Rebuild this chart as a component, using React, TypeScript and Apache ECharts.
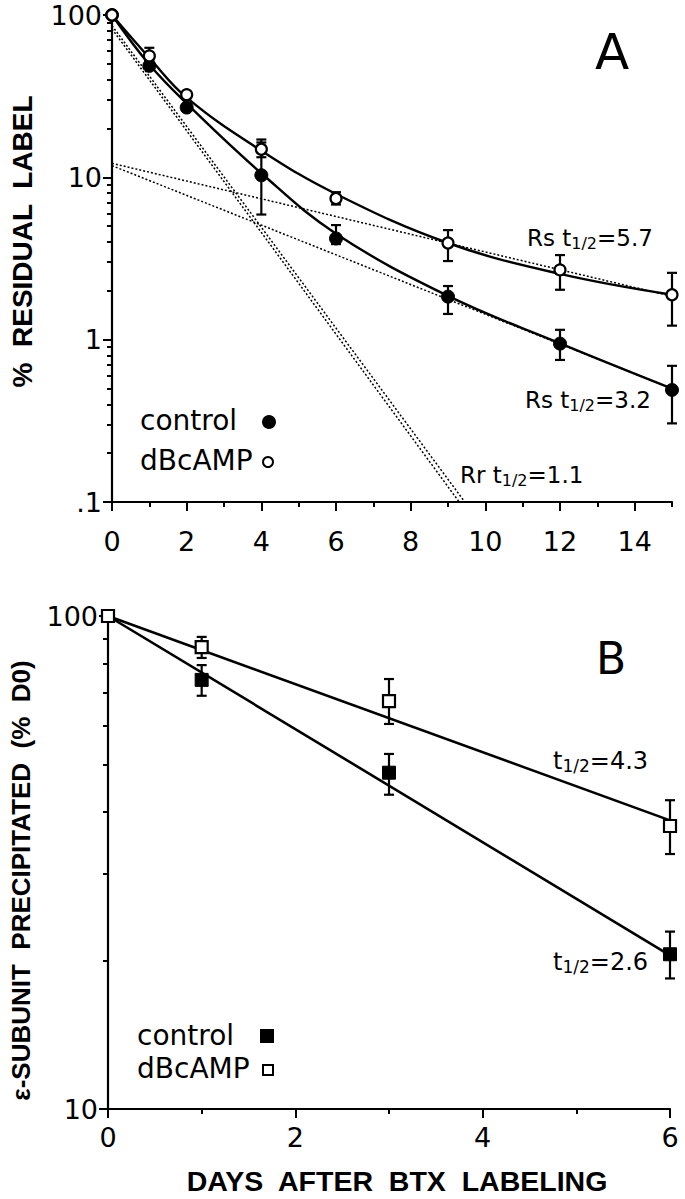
import React, { useEffect, useRef } from "react";
import * as echarts from "echarts";

// ---------- Panel A data (days, % residual label) ----------
const daysA = [0, 1, 2, 4, 6, 9, 12, 15];
const controlA = [100, 48.6, 26.9, 10.3, 4.2, 1.84, 0.945, 0.49];
const dbcA = [100, 56, 32.3, 14.9, 7.4, 3.94, 2.69, 1.89];
// error bars: [day, low, high]
const controlAErr = [
  [4, 5.9, 16.4],
  [6, 3.88, 5.08],
  [9, 1.44, 2.14],
  [12, 0.75, 1.15],
  [15, 0.305, 0.69],
];
const dbcAErr = [
  [1, 52, 62.8],
  [4, 13.3, 17.1],
  [6, 6.8, 8.1],
  [9, 3.05, 4.73],
  [12, 2.03, 3.32],
  [15, 1.22, 2.58],
];
// fitted curves
const fitControlA = [100, 49.5, 28.5, 10.6, 4.5, 1.86, 0.95, 0.5];
const fitDbcA = [100, 54.5, 31, 14.6, 7.9, 3.94, 2.54, 1.89];
// component lines (dotted)
const rsDaysA = [0, 15];
const rsControlA = [11.8, 0.5];
const rsDbcA = [12.2, 1.85];
const rrDays1 = [0, 9.45];
const rrLine1 = [86, 0.1];
const rrDays2 = [0, 9.3];
const rrLine2 = [82, 0.1];

// ---------- Panel B data (days, % D0) ----------
const daysB = [0, 1, 3, 6];
const controlB = [100, 74.2, 48.1, 20.6];
const dbcB = [100, 86.5, 67.2, 37.5];
const controlBErr = [
  [1, 68.9, 79.5],
  [3, 43.4, 52.5],
  [6, 18.4, 22.9],
];
const dbcBErr = [
  [1, 82.2, 90.7],
  [3, 60.4, 74.5],
  [6, 32.9, 42.3],
];
const fitDaysB = [0, 6];
const fitControlB = [100, 20.5];
const fitDbcB = [100, 38.5];

// ---------- ticks ----------
const xMajorA = [0, 2, 4, 6, 8, 10, 12, 14];
const xMajorB = [0, 2, 4, 6];
const yMinorA = [0.2, 0.3, 0.4, 0.5, 0.6, 0.7, 0.8, 0.9, 2, 3, 4, 5, 6, 7, 8, 9, 20, 30, 40, 50, 60, 70, 80, 90];
const yMinorB = [20, 30, 40, 50, 60, 70, 80, 90];

const FONT = "DejaVu Sans";
const BOLD = "Liberation Sans";

const zip = (xs: number[], ys: number[]) => xs.map((x, i) => [x, ys[i]]);

function errorSeries(xi: number, yi: number, data: number[][]) {
  return {
    type: "custom",
    xAxisIndex: xi,
    yAxisIndex: yi,
    data,
    z: 3,
    clip: false,
    encode: { x: 0, y: [1, 2] },
    renderItem: (params: any, api: any) => {
      const x = api.value(0);
      const p1 = api.coord([x, api.value(1)]);
      const p2 = api.coord([x, api.value(2)]);
      const w = 5;
      const st = { stroke: "#000", lineWidth: 2.2 };
      return {
        type: "group",
        children: [
          { type: "line", shape: { x1: p1[0], y1: p1[1], x2: p2[0], y2: p2[1] }, style: st },
          { type: "line", shape: { x1: p1[0] - w, y1: p1[1], x2: p1[0] + w, y2: p1[1] }, style: st },
          { type: "line", shape: { x1: p2[0] - w, y1: p2[1], x2: p2[0] + w, y2: p2[1] }, style: st },
        ],
      };
    },
  };
}

function lineSeries(xi: number, yi: number, data: number[][], dashed: boolean, smooth: boolean, width = 2) {
  return {
    type: "line",
    xAxisIndex: xi,
    yAxisIndex: yi,
    data,
    showSymbol: false,
    smooth: smooth ? 0.4 : false,
    z: 2,
    lineStyle: { color: "#000", width, type: dashed ? [2, 2] : "solid" },
  };
}

function pointSeries(xi: number, yi: number, data: number[][], symbol: string, filled: boolean, size: number) {
  return {
    type: "scatter",
    xAxisIndex: xi,
    yAxisIndex: yi,
    data,
    symbol,
    symbolSize: size,
    z: 5,
    clip: false,
    itemStyle: filled
      ? { color: "#000", borderColor: "#000", borderWidth: 1, opacity: 1 }
      : { color: "#fff", borderColor: "#000", borderWidth: 2.2, opacity: 1 },
  };
}

const axisLineStyle = { show: true, onZero: false, lineStyle: { color: "#000", width: 2.2 } };

function half(text: string, x: number, y: number, size: number) {
  return {
    type: "text",
    x,
    y,
    style: {
      text,
      textAlign: "left",
      textVerticalAlign: "middle",
      fill: "#000",
      rich: {
        a: { fontSize: size, fontFamily: FONT, fill: "#000" },
        s: { fontSize: Math.round(size * 0.7), fontFamily: FONT, fill: "#000", padding: [10, 0, 0, 0] },
      },
    },
  };
}

const tickFont = { fontSize: 27, fontFamily: FONT, color: "#000" };
const legendText = (text: string, x: number, y: number) => ({
  type: "text", x, y,
  style: { text, fontSize: 28, fontFamily: FONT, fill: "#000", textAlign: "left", textVerticalAlign: "middle" },
});

export default function App() {
  const ref = useRef<HTMLDivElement>(null);
  useEffect(() => {
    document.body.style.margin = "0";
    const chart = echarts.init(ref.current!, null, { renderer: "svg" });
    const option: any = {
      animation: false,
      backgroundColor: "#fff",
      grid: [
        { left: 110, top: 13, width: 562, height: 489 },
        { left: 108, top: 616, width: 562, height: 493 },
      ],
      xAxis: [
        {
          gridIndex: 0, type: "value", min: 0, max: 15, interval: 1, position: "bottom",
          axisLine: axisLineStyle,
          axisTick: { show: true, length: 5, lineStyle: { color: "#000", width: 2 } },
          axisLabel: { ...tickFont, customValues: xMajorA, margin: 26 },
          splitLine: { show: false },
        },
        {
          gridIndex: 0, type: "value", min: 0, max: 15, position: "bottom",
          axisLine: { show: false },
          axisTick: { show: true, customValues: xMajorA, length: 9, lineStyle: { color: "#000", width: 2 } },
          axisLabel: { show: false },
          splitLine: { show: false },
        },
        {
          gridIndex: 1, type: "value", min: 0, max: 6, interval: 1, position: "bottom",
          axisLine: axisLineStyle,
          axisTick: { show: true, length: 5, lineStyle: { color: "#000", width: 2 } },
          axisLabel: { ...tickFont, customValues: xMajorB, margin: 15 },
          splitLine: { show: false },
          name: "DAYS  AFTER  BTX  LABELING",
          nameLocation: "middle",
          nameGap: 57,
          nameTextStyle: { fontSize: 28.5, fontWeight: "bold", fontFamily: BOLD, color: "#000", padding: [0, 0, 0, 16] },
        },
        {
          gridIndex: 1, type: "value", min: 0, max: 6, position: "bottom",
          axisLine: { show: false },
          axisTick: { show: true, customValues: xMajorB, length: 9, lineStyle: { color: "#000", width: 2 } },
          axisLabel: { show: false },
          splitLine: { show: false },
        },
      ],
      yAxis: [
        {
          gridIndex: 0, type: "log", logBase: 10, min: 0.1, max: 100, position: "left",
          axisLine: axisLineStyle,
          axisTick: { show: true, length: 9, lineStyle: { color: "#000", width: 2 } },
          axisLabel: {
            ...tickFont, margin: 10, padding: [6, 0, 0, 0], lineHeight: 24,
            formatter: (v: number) => (v < 0.5 ? ".1" : String(Math.round(v))),
          },
          splitLine: { show: false },
          name: "%  RESIDUAL  LABEL",
          nameLocation: "middle",
          nameGap: 76,
          nameTextStyle: { fontSize: 28, fontWeight: "bold", fontFamily: BOLD, color: "#000", padding: [0, 0, 0, 34] },
        },
        {
          gridIndex: 0, type: "log", logBase: 10, min: 0.1, max: 100, position: "left",
          axisLine: { show: false },
          axisTick: { show: true, customValues: yMinorA, length: 5, lineStyle: { color: "#000", width: 2 } },
          axisLabel: { show: false },
          splitLine: { show: false },
        },
        {
          gridIndex: 1, type: "log", logBase: 10, min: 10, max: 100, position: "left",
          axisLine: axisLineStyle,
          axisTick: { show: true, length: 9, lineStyle: { color: "#000", width: 2 } },
          axisLabel: { ...tickFont, margin: 10, padding: [4, 0, 0, 0], lineHeight: 24 },
          splitLine: { show: false },
          name: "ε-SUBUNIT  PRECIPITATED  (%  D0)",
          nameLocation: "middle",
          nameGap: 74,
          nameTextStyle: { fontSize: 26, fontWeight: "bold", fontFamily: BOLD, color: "#000", padding: [0, 36, 0, 0] },
        },
        {
          gridIndex: 1, type: "log", logBase: 10, min: 10, max: 100, position: "left",
          axisLine: { show: false },
          axisTick: { show: true, customValues: yMinorB, length: 5, lineStyle: { color: "#000", width: 2 } },
          axisLabel: { show: false },
          splitLine: { show: false },
        },
      ],
      series: [
        // Panel A
        lineSeries(0, 0, zip(rrDays1, rrLine1), true, false, 1.5),
        lineSeries(0, 0, zip(rrDays2, rrLine2), true, false, 1.5),
        lineSeries(0, 0, zip(rsDaysA, rsControlA), true, false, 1.5),
        lineSeries(0, 0, zip(rsDaysA, rsDbcA), true, false, 1.5),
        lineSeries(0, 0, zip(daysA, fitControlA), false, true, 2.4),
        lineSeries(0, 0, zip(daysA, fitDbcA), false, true, 2.4),
        errorSeries(0, 0, controlAErr),
        errorSeries(0, 0, dbcAErr),
        pointSeries(0, 0, zip(daysA, controlA), "circle", true, 13),
        pointSeries(0, 0, zip(daysA, dbcA), "circle", false, 11),
        // Panel B
        lineSeries(2, 2, zip(fitDaysB, fitControlB), false, false, 2.6),
        lineSeries(2, 2, zip(fitDaysB, fitDbcB), false, false, 2.6),
        errorSeries(2, 2, controlBErr),
        errorSeries(2, 2, dbcBErr),
        pointSeries(2, 2, zip(daysB, controlB), "rect", true, 13),
        pointSeries(2, 2, zip(daysB, dbcB), "rect", false, 12),
      ],
      graphic: [
        { type: "text", x: 612, y: 52, style: { text: "A", fontSize: 50, fontFamily: FONT, fill: "#000", textAlign: "center", textVerticalAlign: "middle" } },
        { type: "text", x: 611, y: 658, style: { text: "B", fontSize: 44, fontFamily: FONT, fill: "#000", textAlign: "center", textVerticalAlign: "middle" } },
        half("{a|Rs t}{s|1/2}{a|=5.7}", 527, 238, 23),
        half("{a|Rs t}{s|1/2}{a|=3.2}", 525, 400, 23),
        half("{a|Rr t}{s|1/2}{a|=1.1}", 460, 475, 23),
        half("{a|t}{s|1/2}{a|=4.3}", 553, 761, 24),
        half("{a|t}{s|1/2}{a|=2.6}", 553, 962, 24),
        // legend A
        legendText("control", 140, 420),
        { type: "circle", shape: { cx: 269, cy: 422, r: 7 }, style: { fill: "#000" } },
        legendText("dBcAMP", 140, 460),
        { type: "circle", shape: { cx: 268, cy: 462, r: 5 }, style: { fill: "#fff", stroke: "#000", lineWidth: 2 } },
        // legend B
        legendText("control", 137, 1035),
        { type: "rect", shape: { x: 260, y: 1029, width: 14, height: 14 }, style: { fill: "#000" } },
        legendText("dBcAMP", 137, 1068),
        { type: "rect", shape: { x: 263, y: 1065, width: 10, height: 10 }, style: { fill: "#fff", stroke: "#000", lineWidth: 2 } },
      ],
    };
    chart.setOption(option);
    return () => chart.dispose();
  }, []);
  return <div ref={ref} style={{ width: 685, height: 1199 }} />;
}
